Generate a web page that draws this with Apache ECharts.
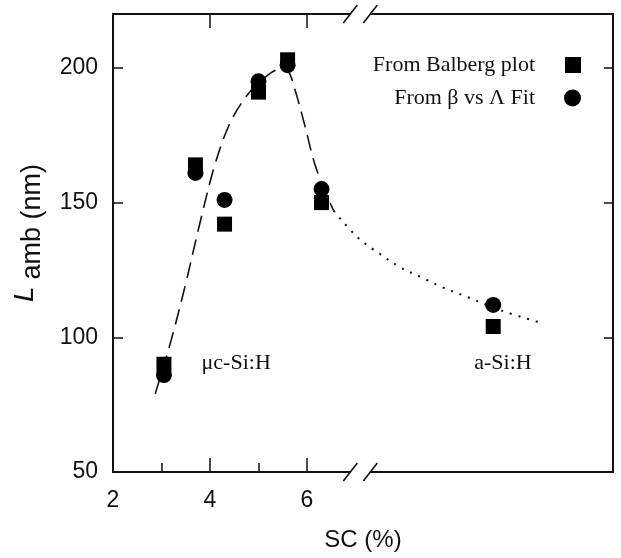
<!DOCTYPE html>
<html>
<head>
<meta charset="utf-8">
<script src="https://cdn.jsdelivr.net/npm/echarts@6/dist/echarts.min.js"></script>
<style>html,body{margin:0;padding:0;background:#fff}#c{width:621px;height:558px}</style>
</head>
<body>
<div id="c"></div>
<script>
// ---- data (x positions on the broken SC axis; a-Si:H placed right of the break) ----
var balbergX = [3.05, 3.7, 4.3, 5.0, 5.6, 6.3, 9.84];
var balbergY = [90, 164, 142, 191, 203, 150, 104];
var fitX = [3.05, 3.7, 4.3, 5.0, 5.6, 6.3, 9.84];
var fitY = [86, 161, 151, 195, 201, 155, 112];
var dashX = [2.87, 3.2, 3.5, 3.8, 4.1, 4.4, 4.75, 5.1, 5.45, 5.6, 5.75, 5.95, 6.15, 6.35, 6.55];
var dashY = [79, 99, 120, 143, 164, 179, 189.5, 196, 199.5, 199, 192, 179, 165, 155, 147];
var dotX = [6.55, 7.05, 7.5, 7.92, 8.33, 8.8, 9.3, 10.0, 10.8];
var dotY = [147, 137, 131, 126, 122.5, 118.5, 115, 110, 105.5];
var annoText = ['μc-Si:H', 'a-Si:H'];
var annoX = [4.54, 10.04];
var annoY = [90.4, 90.4];
var xLabels = [2, 4, 6];
var xMajor = [4, 6];
var xMinor = [3, 5];
var yLabels = [50, 100, 150, 200];
var yTicks = [100, 150, 200];
var xMin = 2, xMax = 12.31, yMin = 50, yMax = 220, xBreak = 7.1;

function zip(a, b) { return a.map(function (v, i) { return [v, b[i]]; }); }

var ink = '#111';
var sans = '"Liberation Sans", Arial, sans-serif';
var serif = '"Liberation Serif", "Times New Roman", serif';

var chart = echarts.init(document.getElementById('c'));
var lineStyleAxis = { color: ink, width: 2 };

var option = {
  animation: false,
  grid: { left: 113, right: 8, top: 14, bottom: 86, show: false },
  xAxis: [
    {
      type: 'value', min: xMin, max: xMax, position: 'bottom',
      axisLine: { show: true, lineStyle: lineStyleAxis, onZero: false },
      axisTick: { show: true, inside: true, length: 14, customValues: xMajor, lineStyle: { color: ink, width: 1.5 } },
      axisLabel: { show: true, customValues: xLabels, fontSize: 23, fontFamily: sans, color: ink, margin: 17 },
      splitLine: { show: false },
      name: 'SC (%)', nameLocation: 'middle', nameGap: 56,
      nameTextStyle: { fontSize: 24, fontFamily: sans, color: ink }
    },
    {
      type: 'value', min: xMin, max: xMax, position: 'bottom',
      axisLine: { show: false, onZero: false },
      axisTick: { show: true, inside: true, length: 9, customValues: xMinor, lineStyle: { color: ink, width: 1.5 } },
      axisLabel: { show: false }, splitLine: { show: false }
    },
    {
      type: 'value', min: xMin, max: xMax, position: 'top',
      axisLine: { show: true, lineStyle: lineStyleAxis, onZero: false },
      axisTick: { show: true, inside: true, length: 14, customValues: xMajor, lineStyle: { color: ink, width: 1.5 } },
      axisLabel: { show: false }, splitLine: { show: false }
    }
  ],
  yAxis: [
    {
      type: 'value', min: yMin, max: yMax, position: 'left',
      axisLine: { show: true, lineStyle: lineStyleAxis, onZero: false },
      axisTick: { show: true, inside: true, length: 10, customValues: yTicks, lineStyle: { color: ink, width: 1.5 } },
      axisLabel: { show: true, customValues: yLabels, fontSize: 23, fontFamily: sans, color: ink, margin: 15 },
      splitLine: { show: false },
      name: '{L|L}{s|amb (nm)}', nameLocation: 'middle', nameGap: 66,
      nameTextStyle: {
        fontFamily: sans, color: ink, fontSize: 27, padding: [0, 0, 0, 20],
        rich: {
          L: { fontStyle: 'italic', fontSize: 28, fontFamily: sans, color: ink, padding: [0, 7, 8, 0] },
          s: { fontSize: 27, fontFamily: sans, color: ink, padding: [8, 0, 0, 0] }
        }
      }
    },
    {
      type: 'value', min: yMin, max: yMax, position: 'right',
      axisLine: { show: true, lineStyle: lineStyleAxis, onZero: false },
      axisTick: { show: true, inside: true, length: 9, customValues: yTicks, lineStyle: { color: ink, width: 1.5 } },
      axisLabel: { show: false }, splitLine: { show: false }
    }
  ],
  legend: [
    {
      data: [{ name: 'From Balberg plot', icon: 'rect' }],
      right: 35, top: 49, align: 'right', itemWidth: 16, itemHeight: 16,
      textStyle: { fontFamily: serif, fontSize: 22, color: ink, padding: [0, 25, 0, 0] },
      selectedMode: false
    },
    {
      data: [{ name: 'From β vs Λ Fit', icon: 'circle' }],
      right: 35, top: 82, align: 'right', itemWidth: 17, itemHeight: 17,
      textStyle: { fontFamily: serif, fontSize: 22, color: ink, padding: [0, 24, 0, 0] },
      selectedMode: false
    }
  ],
  series: [
    {
      name: 'dash fit', type: 'line', smooth: 0.35, symbol: 'none', silent: true,
      data: zip(dashX, dashY),
      lineStyle: { color: ink, width: 1.6, type: [16, 8] }, z: 2
    },
    {
      name: 'dot fit', type: 'line', smooth: 0.4, symbol: 'none', silent: true,
      data: zip(dotX, dotY),
      lineStyle: { color: ink, width: 2, type: [2, 7] }, z: 2
    },
    {
      name: 'From Balberg plot', type: 'scatter', symbol: 'rect', symbolSize: 15,
      data: zip(balbergX, balbergY), itemStyle: { color: '#000', opacity: 1 }, z: 3
    },
    {
      name: 'From β vs Λ Fit', type: 'scatter', symbol: 'circle', symbolSize: 16,
      data: zip(fitX, fitY), itemStyle: { color: '#000', opacity: 1 }, z: 4
    },
    {
      name: 'annotations', type: 'scatter', symbolSize: 0, silent: true,
      itemStyle: { opacity: 1 },
      data: annoText.map(function (t, i) { return { name: t, value: [annoX[i], annoY[i]] }; }),
      label: {
        show: true, position: 'inside', formatter: '{b}',
        fontFamily: serif, fontSize: 22, color: ink, opacity: 1
      }, z: 5
    }
  ]
};
chart.setOption(option);

// axis-break marks "//" on top and bottom frame lines
var bx = chart.convertToPixel({ xAxisIndex: 0 }, xBreak);
var yTop = chart.convertToPixel({ yAxisIndex: 0 }, yMax);
var yBot = chart.convertToPixel({ yAxisIndex: 0 }, yMin);
function breakMarks(y) {
  return [
    { type: 'rect', shape: { x: bx - 10, y: y - 3, width: 20, height: 6 }, style: { fill: '#fff' }, z: 100 },
    { type: 'line', shape: { x1: bx - 17, y1: y + 9, x2: bx - 3, y2: y - 9 }, style: { stroke: ink, lineWidth: 1.6 }, z: 101 },
    { type: 'line', shape: { x1: bx + 3, y1: y + 9, x2: bx + 17, y2: y - 9 }, style: { stroke: ink, lineWidth: 1.6 }, z: 101 }
  ];
}
chart.setOption({ graphic: breakMarks(yTop).concat(breakMarks(yBot)) });
</script>
</body>
</html>
